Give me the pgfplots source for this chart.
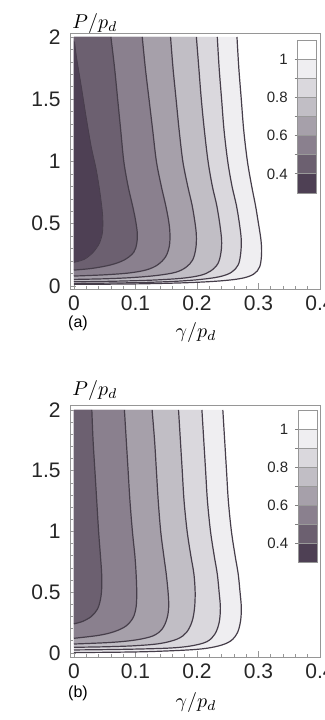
\documentclass[border=0pt]{standalone}
\usepackage{pgfplots}
\pgfplotsset{compat=1.18}
\usepackage{pgfplotstable}
\usepackage{fontspec}
\setmainfont{Liberation Sans}
\definecolor{r03}{RGB}{78,64,84}
\definecolor{r04}{RGB}{108,96,112}
\definecolor{r05}{RGB}{138,128,142}
\definecolor{r06}{RGB}{166,160,170}
\definecolor{r07}{RGB}{193,190,197}
\definecolor{r08}{RGB}{218,216,221}
\definecolor{r09}{RGB}{239,238,241}
\definecolor{cl}{RGB}{70,62,74}
\definecolor{frame}{RGB}{150,150,150}

% ---------- panel (a) contours: first row is the corner of the filled region
\pgfplotstableread{
x y
0 1.97
0.001 1.96
0.004 1.84
0.012 1.60
0.020 1.35
0.028 1.12
0.036 0.94
0.042 0.76
0.046 0.60
0.047 0.50
0.046 0.42
0.041 0.34
0.031 0.27
0.017 0.215
0 0.19
}\cAfour
\pgfplotstableread{
x y
0 2
0.060 2
0.066 1.75
0.071 1.5
0.076 1.25
0.081 1.0
0.088 0.8
0.095 0.65
0.100 0.53
0.103 0.42
0.102 0.34
0.097 0.27
0.082 0.21
0.060 0.17
0.030 0.142
0 0.128
}\cAfive
\pgfplotstableread{
x y
0 2
0.111 2
0.116 1.75
0.122 1.5
0.128 1.25
0.134 1.0
0.142 0.8
0.149 0.65
0.154 0.52
0.156 0.42
0.155 0.32
0.149 0.235
0.136 0.17
0.118 0.13
0.090 0.105
0.050 0.09
0 0.08
}\cAsix
\pgfplotstableread{
x y
0 2
0.157 2
0.161 1.75
0.166 1.5
0.171 1.25
0.177 1.0
0.185 0.8
0.192 0.65
0.197 0.5
0.199 0.4
0.198 0.3
0.193 0.21
0.182 0.15
0.165 0.11
0.135 0.085
0.095 0.068
0.05 0.058
0 0.053
}\cAseven
\pgfplotstableread{
x y
0 2
0.199 2
0.203 1.75
0.207 1.5
0.212 1.25
0.218 1.0
0.225 0.8
0.232 0.65
0.237 0.5
0.240 0.37
0.239 0.27
0.234 0.18
0.222 0.12
0.205 0.085
0.175 0.062
0.126 0.047
0.06 0.038
0 0.034
}\cAeight
\pgfplotstableread{
x y
0 2
0.233 2
0.236 1.75
0.240 1.5
0.244 1.25
0.250 1.0
0.257 0.8
0.264 0.65
0.269 0.5
0.272 0.37
0.271 0.26
0.267 0.17
0.256 0.11
0.236 0.074
0.2 0.05
0.153 0.035
0.08 0.025
0 0.021
}\cAnine
\pgfplotstableread{
x y
0 2
0.265 2
0.268 1.75
0.272 1.5
0.276 1.25
0.282 1.0
0.289 0.8
0.295 0.65
0.300 0.5
0.304 0.37
0.305 0.26
0.302 0.155
0.292 0.095
0.272 0.061
0.235 0.04
0.18 0.026
0.1 0.017
0 0.013
}\cAten

% ---------- panel (b) contours
\pgfplotstableread{
x y
0 2
0.029 2
0.031 1.75
0.034 1.5
0.037 1.25
0.040 1.0
0.043 0.8
0.045 0.65
0.045 0.53
0.043 0.44
0.038 0.36
0.028 0.3
0.014 0.26
0 0.24
}\cBfive
\pgfplotstableread{
x y
0 2
0.082 2
0.085 1.75
0.088 1.5
0.091 1.25
0.095 1.0
0.099 0.8
0.101 0.65
0.102 0.5
0.101 0.38
0.096 0.29
0.084 0.22
0.065 0.175
0.04 0.145
0 0.121
}\cBsix
\pgfplotstableread{
x y
0 2
0.127 2
0.131 1.75
0.134 1.5
0.137 1.25
0.141 1.0
0.146 0.8
0.150 0.65
0.153 0.5
0.154 0.38
0.151 0.28
0.143 0.195
0.128 0.14
0.1 0.107
0.06 0.087
0 0.074
}\cBseven
\pgfplotstableread{
x y
0 2
0.170 2
0.173 1.75
0.176 1.5
0.179 1.25
0.184 1.0
0.190 0.8
0.195 0.65
0.197 0.5
0.196 0.37
0.192 0.26
0.183 0.17
0.168 0.115
0.14 0.078
0.1 0.06
0.05 0.051
0 0.047
}\cBeight
\pgfplotstableread{
x y
0 2
0.208 2
0.211 1.75
0.214 1.5
0.217 1.25
0.222 1.0
0.228 0.8
0.233 0.65
0.236 0.5
0.238 0.37
0.236 0.25
0.229 0.155
0.216 0.093
0.19 0.058
0.153 0.04
0.08 0.03
0 0.025
}\cBnine
\pgfplotstableread{
x y
0 2
0.242 2
0.245 1.75
0.248 1.5
0.251 1.25
0.256 1.0
0.262 0.8
0.267 0.65
0.270 0.5
0.272 0.38
0.271 0.27
0.266 0.17
0.255 0.1
0.235 0.058
0.2 0.03
0.126 0.012
0.06 0.006
0 0.004
}\cBten

\pgfplotsset{
  panel/.style={
    scale only axis, width=125pt,
    xmin=-0.0065, xmax=0.4,
    clip=false,
    axis line style={draw=frame, line width=0.5pt},
    tick style={draw=frame, line width=0.35pt},
    tick align=inside,
    major tick length=3pt, minor tick length=1.5pt,
    xtick={0,0.1,0.2,0.3,0.4}, xticklabels={0,0.1,0.2,0.3,0.4},
    ytick={0,0.5,1,1.5,2}, yticklabels={0,0.5,1,1.5,2},
    minor x tick num=4, minor y tick num=4,
    xtick pos=left, ytick pos=left,
    tick label style={font=\fontsize{10.5}{12}\selectfont, text=black!85},
    yticklabel style={xshift=-1.2pt},
  },
  cline/.style={draw=cl, line width=0.6pt, smooth, tension=0.55,
    skip coords between index={0}{1}},
  cfill/.style={draw=none, fill=#1},
  cbar/.style={
    anchor=north west, scale only axis, width=9.5pt,
    xmin=0, xmax=1, ymin=0.3, ymax=1.1, xtick=\empty,
    ytick={0.4,0.5,0.6,0.7,0.8,0.9,1.0}, yticklabels={0.4,,0.6,,0.8,,1},
    ytick pos=left, tick align=outside, major tick length=1.5pt,
    tick style={draw=gray, line width=0.4pt},
    ymajorgrids, grid style={draw=gray!80, line width=0.4pt},
    axis line style={draw=frame, line width=0.4pt},
    yticklabel style={font=\fontsize{7.5}{9}\selectfont, text=black!85},
    axis on top,
  },
}

\newcommand\bands{%
  \addplot[cfill=r03] coordinates {(0,0.3)(1,0.3)(1,0.4)(0,0.4)};
  \addplot[cfill=r04] coordinates {(0,0.4)(1,0.4)(1,0.5)(0,0.5)};
  \addplot[cfill=r05] coordinates {(0,0.5)(1,0.5)(1,0.6)(0,0.6)};
  \addplot[cfill=r06] coordinates {(0,0.6)(1,0.6)(1,0.7)(0,0.7)};
  \addplot[cfill=r07] coordinates {(0,0.7)(1,0.7)(1,0.8)(0,0.8)};
  \addplot[cfill=r08] coordinates {(0,0.8)(1,0.8)(1,0.9)(0,0.9)};
  \addplot[cfill=r09] coordinates {(0,0.9)(1,0.9)(1,1.0)(0,1.0)};
  \addplot[cfill=white] coordinates {(0,1.0)(1,1.0)(1,1.1)(0,1.1)};
}

\begin{document}
\begin{tikzpicture}
\path[use as bounding box] (0,0) rectangle (162.5pt,-360pt);

% ================= panel (a)
\begin{axis}[panel, at={(35pt,-16.5pt)}, anchor=north west,
  height=128pt, ymin=-0.024, ymax=2.032]
  \addplot[cfill=r09] table {\cAten};
  \addplot[cfill=r08] table {\cAnine};
  \addplot[cfill=r07] table {\cAeight};
  \addplot[cfill=r06] table {\cAseven};
  \addplot[cfill=r05] table {\cAsix};
  \addplot[cfill=r04] table {\cAfive};
  \addplot[cfill=r03] table {\cAfour};
  \addplot[cline, draw=cl!80!r03, line width=0.4pt] table {\cAfour};
  \addplot[cline] table {\cAfive};
  \addplot[cline] table {\cAsix};
  \addplot[cline] table {\cAseven};
  \addplot[cline] table {\cAeight};
  \addplot[cline] table {\cAnine};
  \addplot[cline] table {\cAten};
\end{axis}
\begin{axis}[cbar, at={(148.85pt,-20pt)}, height=76.5pt]
  \bands
\end{axis}
\node at (47.5pt,-11.5pt) {$P/p_d$};
\node at (98pt,-166pt) {$\gamma/p_d$};
\node[font=\fontsize{8}{9}\selectfont] at (39pt,-161.5pt) {(a)};

% ================= panel (b)
\begin{axis}[panel, at={(35pt,-202.5pt)}, anchor=north west,
  height=126pt, ymin=-0.033, ymax=2.041]
  \addplot[cfill=r09] table {\cBten};
  \addplot[cfill=r08] table {\cBnine};
  \addplot[cfill=r07] table {\cBeight};
  \addplot[cfill=r06] table {\cBseven};
  \addplot[cfill=r05] table {\cBsix};
  \addplot[cfill=r04] table {\cBfive};
  \addplot[cline] table {\cBfive};
  \addplot[cline] table {\cBsix};
  \addplot[cline] table {\cBseven};
  \addplot[cline] table {\cBeight};
  \addplot[cline] table {\cBnine};
  \addplot[cline] table {\cBten};
\end{axis}
\begin{axis}[cbar, at={(149.15pt,-205pt)}, height=76.35pt]
  \bands
\end{axis}
\node at (47.5pt,-195pt) {$P/p_d$};
\node at (98pt,-351pt) {$\gamma/p_d$};
\node[font=\fontsize{8}{9}\selectfont] at (39pt,-346.5pt) {(b)};
\end{tikzpicture}
\end{document}
